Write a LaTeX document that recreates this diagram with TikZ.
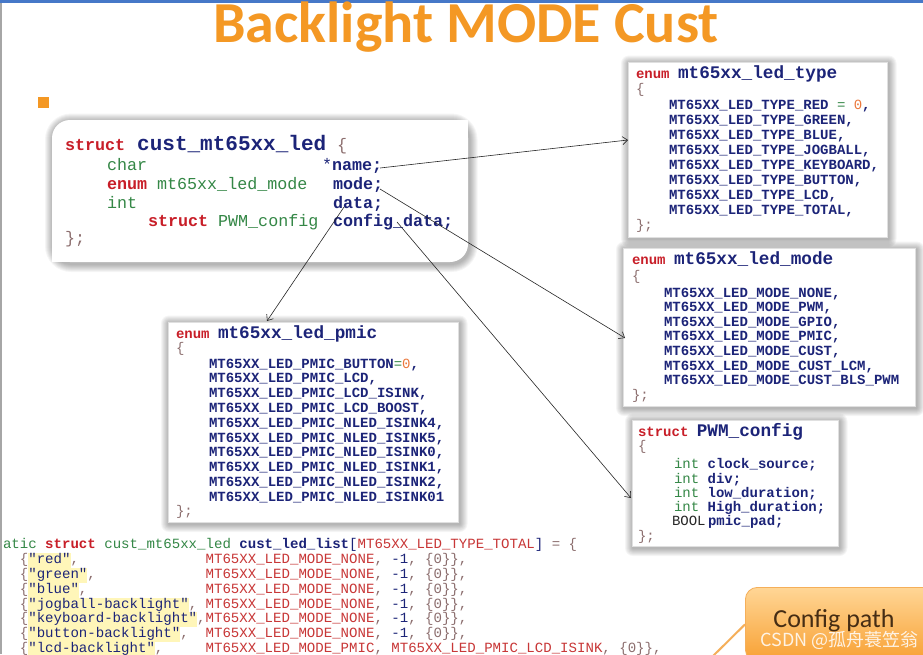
\documentclass[tikz,border=0pt]{standalone}
\usepackage{fontspec}
\setmainfont{Carlito}
\newfontfamily\mono{Liberation Mono}
\newfontfamily\cjk{Noto Sans CJK SC}
\usetikzlibrary{arrows.meta}
\definecolor{cKwC}{RGB}{200,30,40}
\definecolor{cNmC}{RGB}{28,36,120}
\definecolor{cTyC}{RGB}{52,135,70}
\definecolor{cPuC}{RGB}{140,110,110}
\definecolor{cOrC}{RGB}{235,120,60}
\definecolor{cMrC}{RGB}{200,55,55}
\definecolor{cHlC}{RGB}{255,246,185}
\definecolor{ttlC}{RGB}{244,152,36}
\definecolor{barC}{RGB}{70,120,200}
\definecolor{calTop}{RGB}{255,214,150}
\definecolor{calBot}{RGB}{248,160,50}
\definecolor{calEdge}{RGB}{245,175,90}
\definecolor{cfgC}{RGB}{70,45,20}

\newcommand\cKw[1]{{\bfseries\color{cKwC}#1}}
\newcommand\cNm[1]{{\bfseries\color{cNmC}#1}}
\newcommand\cNr[1]{{\color{cNmC}#1}}
\newcommand\cTy[1]{{\color{cTyC}#1}}
\newcommand\cPu[1]{{\color{cPuC}#1}}
\newcommand\cMr[1]{{\color{cMrC}#1}}
\newcommand\cOr[1]{{\color{cOrC}#1}}
\newcommand\cHl[1]{{\setlength{\fboxsep}{0pt}\colorbox{cHlC}{\strut\color{cNmC}#1}}}
\newcommand\cTt[1]{{\fontsize{17.7}{18}\selectfont\bfseries\color{cNmC}#1}}

\newcommand\glow[5]{%
  \foreach \g in {1,...,8}{\fill[black,opacity=0.04,rounded corners=#5+\g] (#1-\g+1,#2-\g+1.5) rectangle (#3+\g+1.5,#4+\g+2);}}

\tikzset{
  tx/.style={anchor=base west, inner sep=0pt, outer sep=0pt, font=\mono\fontsize{14}{15}\selectfont},
  sx/.style={anchor=base west, inner sep=0pt, outer sep=0pt, font=\mono\fontsize{16.7}{18}\selectfont},
  bx/.style={anchor=base west, inner sep=0pt, outer sep=0pt, font=\mono\fontsize{14.07}{15}\selectfont},
  cbox/.style={fill=white, draw=black!12, line width=0.4pt, inner sep=0pt, outer sep=0pt, anchor=north west},
  arr/.style={draw=black!85, line width=0.6pt, -{Straight Barb[length=5pt,width=8pt]}},
}

\begin{document}
\begin{tikzpicture}[x=1pt,y=-1pt]
\useasboundingbox (0,0) rectangle (923,654);
\clip (0,0) rectangle (923,654);
\fill[white] (0,0) rectangle (923,654);
\fill[barC] (0,0) rectangle (923,2.5);
\fill[black!35] (0,2.5) rectangle (1.5,654);

% title and bullet
\node[anchor=base, inner sep=0pt, text=ttlC, font=\fontsize{58}{58}\selectfont\bfseries] (title) at (466,42) {Backlight MODE Cust};
\fill[ttlC] (38,97) rectangle (49,108);

% struct box
\glow{52}{120}{468}{262}{18}
\fill[white, rounded corners=18] (52,120) rectangle (468,262);
\fill[white] (260,120) rectangle (468,190);
\fill[white] (52,190) rectangle (260,262);
\node[sx] (s1a) at (65,150) {\cKw{struct}};
\node[anchor=base west, inner sep=0pt, font=\mono\fontsize{21}{22}\selectfont\bfseries, text=cNmC] (s1b) at (137,150) {cust\_mt65xx\_led};
\node[sx] (s1c) at (337,150) {\cPu{\{}};
\node[sx] (s2a) at (107,170) {\cTy{char}};
\node[sx] (s2b) at (322,170) {\cNr{*}\cNm{name;}};
\node[sx] (s3a) at (107,189) {\cKw{enum} \cTy{mt65xx\_led\_mode}};
\node[sx] (s3b) at (333,189) {\cNm{mode;}};
\node[sx] (s4a) at (107,208) {\cTy{int}};
\node[sx] (s4b) at (333,208) {\cNm{data;}};
\node[sx] (s5a) at (148,226) {\cKw{struct} \cTy{PWM\_config}};
\node[sx] (s5b) at (333,226) {\cNm{config\_data;}};
\node[sx] (s6) at (65,243) {\cPu{\};}};

% type box
\glow{628}{62}{887}{237}{0}
\node[cbox, minimum width=259pt, minimum height=175pt] (typeBox) at (628,62) {};
\node[tx] (t0) at (636,78) {\cKw{enum} \cTt{mt65xx\_led\_type}};
\node[tx] (t1) at (636,93) {\cPu{\{}};
\node[tx] (t2) at (669,109) {\cNm{MT65XX\_LED\_TYPE\_RED} \cTy{=} \cOr{0}\cNm{,}};
\node[tx] (t3) at (669,124) {\cNm{MT65XX\_LED\_TYPE\_GREEN,}};
\node[tx] (t4) at (669,139) {\cNm{MT65XX\_LED\_TYPE\_BLUE,}};
\node[tx] (t5) at (669,154) {\cNm{MT65XX\_LED\_TYPE\_JOGBALL,}};
\node[tx] (t6) at (669,169) {\cNm{MT65XX\_LED\_TYPE\_KEYBOARD,}};
\node[tx] (t7) at (669,184) {\cNm{MT65XX\_LED\_TYPE\_BUTTON,}};
\node[tx] (t8) at (669,199) {\cNm{MT65XX\_LED\_TYPE\_LCD,}};
\node[tx] (t9) at (669,214) {\cNm{MT65XX\_LED\_TYPE\_TOTAL,}};
\node[tx] (t10) at (636,229) {\cPu{\};}};

% mode box
\glow{623}{248}{915}{406}{0}
\node[cbox, minimum width=292pt, minimum height=158pt] (modeBox) at (623,248) {};
\node[tx] (m0) at (632,264) {\cKw{enum} \cTt{mt65xx\_led\_mode}};
\node[tx] (m1) at (632,280) {\cPu{\{}};
\node[tx] (m2) at (664,297) {\cNm{MT65XX\_LED\_MODE\_NONE,}};
\node[tx] (m3) at (664,311.6) {\cNm{MT65XX\_LED\_MODE\_PWM,}};
\node[tx] (m4) at (664,326.2) {\cNm{MT65XX\_LED\_MODE\_GPIO,}};
\node[tx] (m5) at (664,340.8) {\cNm{MT65XX\_LED\_MODE\_PMIC,}};
\node[tx] (m6) at (664,355.4) {\cNm{MT65XX\_LED\_MODE\_CUST,}};
\node[tx] (m7) at (664,370) {\cNm{MT65XX\_LED\_MODE\_CUST\_LCM,}};
\node[tx] (m8) at (664,384.6) {\cNm{MT65XX\_LED\_MODE\_CUST\_BLS\_PWM}};
\node[tx] (m9) at (632,399.5) {\cPu{\};}};

% pmic box
\glow{168}{322}{458}{522}{0}
\node[cbox, minimum width=290pt, minimum height=200pt] (pmicBox) at (168,322) {};
\node[tx] (p0) at (176,338) {\cKw{enum} \cTt{mt65xx\_led\_pmic}};
\node[tx] (p1) at (176,352) {\cPu{\{}};
\node[tx] (p2) at (209,368) {\cNm{MT65XX\_LED\_PMIC\_BUTTON}\cTy{=}\cOr{0}\cNm{,}};
\node[tx] (p3) at (209,382.8) {\cNm{MT65XX\_LED\_PMIC\_LCD,}};
\node[tx] (p4) at (209,397.6) {\cNm{MT65XX\_LED\_PMIC\_LCD\_ISINK,}};
\node[tx] (p5) at (209,412.4) {\cNm{MT65XX\_LED\_PMIC\_LCD\_BOOST,}};
\node[tx] (p6) at (209,427.2) {\cNm{MT65XX\_LED\_PMIC\_NLED\_ISINK4,}};
\node[tx] (p7) at (209,442) {\cNm{MT65XX\_LED\_PMIC\_NLED\_ISINK5,}};
\node[tx] (p8) at (209,456.8) {\cNm{MT65XX\_LED\_PMIC\_NLED\_ISINK0,}};
\node[tx] (p9) at (209,471.6) {\cNm{MT65XX\_LED\_PMIC\_NLED\_ISINK1,}};
\node[tx] (p10) at (209,486.4) {\cNm{MT65XX\_LED\_PMIC\_NLED\_ISINK2,}};
\node[tx] (p11) at (209,501.2) {\cNm{MT65XX\_LED\_PMIC\_NLED\_ISINK01}};
\node[tx] (p12) at (176,515.5) {\cPu{\};}};

% PWM box
\glow{632}{420}{838}{546}{0}
\node[cbox, minimum width=206pt, minimum height=126pt] (pwmBox) at (632,420) {};
\node[tx] (w0) at (638,436) {\cKw{struct} \cTt{PWM\_config}};
\node[tx] (w1) at (638,450) {\cPu{\{}};
\node[tx] (w2) at (674,468) {\cTy{int} \cNm{clock\_source;}};
\node[tx] (w3) at (674,483) {\cTy{int} \cNm{div;}};
\node[tx] (w4) at (674,497) {\cTy{int} \cNm{low\_duration;}};
\node[tx] (w5) at (674,511) {\cTy{int} \cNm{High\_duration;}};
\node[tx] (w6a) at (672,525) {{\color{black!85}BOOL}};
\node[tx] (w6b) at (708,525) {\cNm{pmic\_pad;}};
\node[tx] (w7) at (638,540) {\cPu{\};}};

% arrows
\coordinate (aName) at (380,168);
\coordinate (aType) at (628,140);
\coordinate (aMode) at (380,189);
\coordinate (aModeE) at (625,338);
\coordinate (aData) at (344,207);
\coordinate (aPmic) at (267,321);
\coordinate (aConf) at (397,222);
\coordinate (aPwm) at (631,498);
\draw[arr] (aName) -- (aType);
\draw[arr] (aMode) -- (aModeE);
\draw[arr] (aData) -- (aPmic);
\draw[arr] (aConf) -- (aPwm);

% bottom code
\node[bx] (b0) at (3,548) {\cTy{atic} \cKw{struct} \cTy{cust\_mt65xx\_led} \cNm{cust\_led\_list}\cNr{[}\cMr{MT65XX\_LED\_TYPE\_TOTAL}\cNr{]} \cPu{= \{}};
\node[bx] (b1) at (3,563) {~~\cPu{\{}\cHl{"red"}\cPu{,}~~~~~~~~~~~~~~~\cMr{MT65XX\_LED\_MODE\_NONE}\cPu{,}~\cNr{-1}\cPu{,~\{0\}\},}};
\node[bx] (b2) at (3,578) {~~\cPu{\{}\cHl{"green"}\cPu{,}~~~~~~~~~~~~~\cMr{MT65XX\_LED\_MODE\_NONE}\cPu{,}~\cNr{-1}\cPu{,~\{0\}\},}};
\node[bx] (b3) at (3,593) {~~\cPu{\{}\cHl{"blue"}\cPu{,}~~~~~~~~~~~~~~\cMr{MT65XX\_LED\_MODE\_NONE}\cPu{,}~\cNr{-1}\cPu{,~\{0\}\},}};
\node[bx] (b4) at (3,608) {~~\cPu{\{}\cHl{"jogball-backlight"}\cPu{,}~\cMr{MT65XX\_LED\_MODE\_NONE}\cPu{,}~\cNr{-1}\cPu{,~\{0\}\},}};
\node[bx] (b5) at (3,622) {~~\cPu{\{}\cHl{"keyboard-backlight"}\cPu{,}\cMr{MT65XX\_LED\_MODE\_NONE}\cPu{,}~\cNr{-1}\cPu{,~\{0\}\},}};
\node[bx] (b6) at (3,637) {~~\cPu{\{}\cHl{"button-backlight"}\cPu{,}~~\cMr{MT65XX\_LED\_MODE\_NONE}\cPu{,}~\cNr{-1}\cPu{,~\{0\}\},}};
\node[bx] (b7) at (3,652) {~~\cPu{\{}\cHl{"lcd-backlight"}\cPu{,}~~~~~\cMr{MT65XX\_LED\_MODE\_PMIC}\cPu{,}~\cMr{MT65XX\_LED\_PMIC\_LCD\_ISINK}\cPu{,~\{0\}\},}};

% callout
\node[draw=calEdge, line width=0.8pt, rounded corners=12pt, top color=calTop, bottom color=calBot, minimum width=200pt, minimum height=74pt, anchor=north west, inner sep=0pt] (callout) at (745,587) {};
\coordinate (tailEnd) at (712,657);
\draw[calEdge, line width=2pt] (callout.west) -- (tailEnd);
\node[anchor=base, inner sep=0pt, font=\fontsize{26}{26}\selectfont, text=cfgC] (cfg) at (834,627) {Config path};
\node[anchor=base east, inner sep=0pt, font=\cjk\fontsize{18}{18}\selectfont, text=white, text opacity=0.85] (wm) at (919,646) {CSDN @孤舟蓑笠翁};
\end{tikzpicture}
\end{document}
